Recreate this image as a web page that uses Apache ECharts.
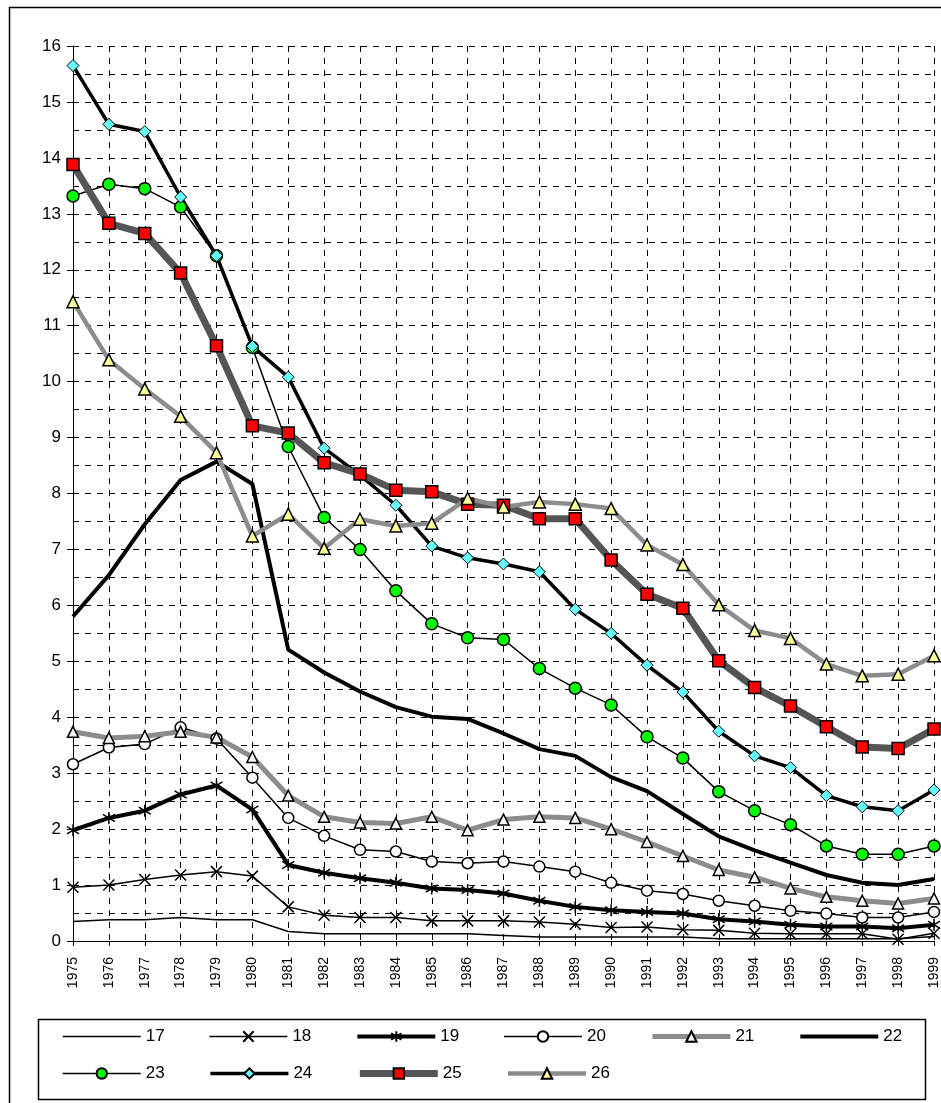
<!DOCTYPE html>
<html>
<head>
<meta charset="utf-8">
<script src="https://cdn.jsdelivr.net/npm/echarts@6/dist/echarts.min.js"></script>
<style>html,body{margin:0;padding:0;background:#fff}#c{width:941px;height:1103px}</style>
</head>
<body>
<div id="c"></div>
<script>
const years = ['1975','1976','1977','1978','1979','1980','1981','1982','1983','1984','1985','1986','1987','1988','1989','1990','1991','1992','1993','1994','1995','1996','1997','1998','1999'];
const seriesNames = ['17','18','19','20','21','22','23','24','25','26'];
const s17 = [0.35,0.38,0.38,0.42,0.38,0.38,0.17,0.13,0.13,0.13,0.13,0.13,0.10,0.07,0.07,0.07,0.07,0.07,0.04,0.04,0.04,0.04,0.04,0.04,0.08];
const s18 = [0.96,1.00,1.10,1.18,1.24,1.16,0.61,0.46,0.42,0.42,0.36,0.36,0.36,0.34,0.30,0.24,0.25,0.20,0.19,0.14,0.13,0.13,0.13,0.03,0.14];
const s19 = [1.98,2.20,2.33,2.62,2.78,2.35,1.36,1.22,1.12,1.04,0.94,0.91,0.85,0.72,0.61,0.55,0.52,0.49,0.39,0.35,0.29,0.26,0.26,0.23,0.29];
const s20 = [3.16,3.46,3.52,3.82,3.62,2.92,2.20,1.88,1.63,1.60,1.42,1.39,1.42,1.33,1.24,1.04,0.90,0.84,0.72,0.63,0.54,0.49,0.42,0.42,0.52];
const s21 = [3.74,3.63,3.66,3.74,3.64,3.29,2.60,2.22,2.12,2.10,2.22,1.98,2.17,2.22,2.20,2.00,1.77,1.52,1.27,1.14,0.94,0.79,0.72,0.67,0.76];
const s22 = [5.80,6.54,7.45,8.24,8.57,8.17,5.21,4.80,4.46,4.18,4.01,3.97,3.71,3.43,3.31,2.93,2.68,2.27,1.87,1.62,1.40,1.18,1.04,1.00,1.11];
const s23 = [13.32,13.53,13.45,13.12,12.25,10.61,8.84,7.57,7.00,6.26,5.67,5.42,5.39,4.87,4.52,4.22,3.65,3.27,2.67,2.33,2.08,1.70,1.55,1.55,1.70];
const s24 = [15.65,14.60,14.47,13.30,12.25,10.63,10.08,8.81,8.33,7.79,7.06,6.85,6.74,6.60,5.93,5.50,4.93,4.45,3.75,3.31,3.10,2.60,2.40,2.33,2.70];
const s25 = [13.88,12.83,12.65,11.94,10.64,9.21,9.08,8.55,8.35,8.06,8.03,7.81,7.79,7.55,7.55,6.81,6.20,5.95,5.01,4.53,4.20,3.83,3.47,3.44,3.79];
const s26 = [11.43,10.39,9.87,9.38,8.73,7.24,7.63,7.02,7.54,7.42,7.47,7.91,7.76,7.85,7.81,7.73,7.08,6.73,6.01,5.55,5.41,4.95,4.74,4.77,5.10];

const FONT = 'Liberation Sans, Arial, sans-serif';
const X_PATH = 'path://M0,0 L10,10 M10,0 L0,10';
const AST_PATH = 'path://M5,0 L5,10 M0,2 L10,8 M0,8 L10,2';

const styles = {
  '17': { lc: '#000', lw: 1.5 },
  '18': { lc: '#000', lw: 1.5, symbol: X_PATH, size: 11, item: { color: 'rgba(0,0,0,0)', borderColor: '#000', borderWidth: 1.5 } },
  '19': { lc: '#000', lw: 4, symbol: AST_PATH, size: 12, item: { color: 'rgba(0,0,0,0)', borderColor: '#000', borderWidth: 1.5 } },
  '20': { lc: '#000', lw: 1.5, symbol: 'circle', size: 11, item: { color: '#fff', borderColor: '#000', borderWidth: 1.5 } },
  '21': { lc: '#8c8c8c', lw: 5, symbol: 'triangle', size: 11, item: { color: '#f4f4f4', borderColor: '#000', borderWidth: 1.5 } },
  '22': { lc: '#000', lw: 4 },
  '23': { lc: '#000', lw: 1.5, symbol: 'circle', size: 12, item: { color: '#00ff00', borderColor: '#000', borderWidth: 1.5 } },
  '24': { lc: '#000', lw: 3.5, symbol: 'diamond', size: 12, item: { color: '#66ffff', borderColor: '#000', borderWidth: 1 } },
  '25': { lc: '#555555', lw: 7, symbol: 'rect', size: 12, item: { color: '#ff0000', borderColor: '#000', borderWidth: 1.5 } },
  '26': { lc: '#8c8c8c', lw: 4.5, symbol: 'triangle', size: 12, item: { color: '#ffff99', borderColor: '#000', borderWidth: 1.5 } }
};
const dataByName = { '17': s17, '18': s18, '19': s19, '20': s20, '21': s21, '22': s22, '23': s23, '24': s24, '25': s25, '26': s26 };

const series = seriesNames.map(function (n) {
  const o = styles[n];
  return {
    name: n, type: 'line', data: dataByName[n], animation: false,
    symbol: o.symbol || 'none', symbolSize: o.size || 10, showSymbol: !!o.symbol,
    lineStyle: { color: o.lc, width: o.lw },
    itemStyle: o.item || { color: o.lc },
    emphasis: { disabled: true }
  };
});

function legendItem(n) {
  const o = styles[n];
  const it = { name: n, lineStyle: { width: o.lw, color: o.lc } };
  if (!o.symbol) { it.itemStyle = { opacity: 0 }; }
  return it;
}

const legendCommon = {
  orient: 'horizontal', itemWidth: 78, itemHeight: 13, itemGap: 44, padding: 0,
  textStyle: { fontFamily: FONT, fontSize: 17, color: '#000' },
  selectedMode: false
};

const chart = echarts.init(document.getElementById('c'), null, { renderer: 'canvas' });
chart.setOption({
  backgroundColor: '#fff',
  animation: false,
  grid: { left: 73, right: 6, top: 46, bottom: 162, containLabel: false },
  xAxis: {
    type: 'category', data: years, boundaryGap: false,
    axisLine: { lineStyle: { color: '#000', width: 1 } },
    axisTick: { show: true, alignWithLabel: true, length: 5, lineStyle: { color: '#000' } },
    axisLabel: { rotate: 90, margin: 16, interval: 0, fontFamily: FONT, fontSize: 14, color: '#000' },
    splitLine: { show: true, lineStyle: { color: '#000', type: [6, 6], width: 1 } }
  },
  yAxis: {
    type: 'value', min: 0, max: 16, interval: 1,
    axisLine: { show: true, lineStyle: { color: '#000', width: 1 } },
    axisTick: { show: true, length: 6, lineStyle: { color: '#000' } },
    axisLabel: { margin: 12, fontFamily: FONT, fontSize: 17, color: '#000' },
    splitLine: { show: true, lineStyle: { color: '#000', type: [6, 6], width: 1 } },
    minorTick: { show: false, splitNumber: 2 },
    minorSplitLine: { show: true, lineStyle: { color: '#000', type: [6, 6], width: 1 } }
  },
  legend: [
    Object.assign({ left: 62, top: 1028, data: ['17','18','19','20','21','22'].map(legendItem) }, legendCommon),
    Object.assign({ left: 62, top: 1065, data: ['23','24','25','26'].map(legendItem) }, legendCommon)
  ],
  graphic: [
    { type: 'rect', silent: true, z: -1, shape: { x: 9.5, y: 7.5, width: 1000, height: 1200 }, style: { fill: 'none', stroke: '#000', lineWidth: 1.5 } },
    { type: 'rect', silent: true, shape: { x: 38.5, y: 1019.5, width: 887, height: 80 }, style: { fill: 'none', stroke: '#000', lineWidth: 1.5 } }
  ],
  series: series
});
</script>
</body>
</html>
